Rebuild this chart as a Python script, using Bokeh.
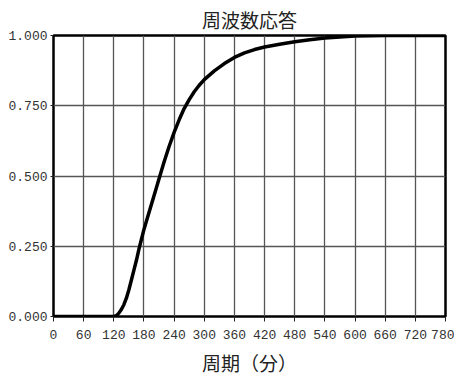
from bokeh.plotting import figure
from bokeh.models import Range1d, FixedTicker, NumeralTickFormatter
from bokeh.embed import file_html
from bokeh.resources import INLINE

# Data (period in minutes, response 0..1)
period = [0, 60, 120, 125, 130, 135, 140, 145, 150, 155, 160, 165, 170, 175, 180,
          190, 200, 210, 220, 230, 240, 250, 260, 270, 280, 290, 300, 320, 340,
          360, 380, 400, 420, 450, 480, 510, 540, 570, 600, 660, 720, 780]
response = [0.0, 0.0, 0.0, 0.003, 0.012, 0.025, 0.042, 0.065, 0.095, 0.13, 0.165,
            0.20, 0.24, 0.275, 0.31, 0.37, 0.43, 0.49, 0.55, 0.605, 0.655, 0.70,
            0.74, 0.772, 0.80, 0.823, 0.843, 0.874, 0.90, 0.922, 0.938, 0.95,
            0.959, 0.969, 0.978, 0.985, 0.991, 0.995, 0.998, 1.0, 1.0, 1.0]
x_ticks = list(range(0, 781, 60))
y_ticks = [0.0, 0.25, 0.5, 0.75, 1.0]

p = figure(width=454, height=383, output_backend="svg", toolbar_location=None,
           x_range=Range1d(0, 780), y_range=Range1d(0, 1),
           min_border_left=53, min_border_right=9, min_border_top=35,
           min_border_bottom=67)

p.title.text = "周波数応答"
p.title.align = "center"
p.title.text_font = "Noto Sans CJK JP"
p.title.text_font_size = "19px"
p.title.text_font_style = "normal"
p.title.text_color = "#222222"
p.title.text_line_height = 1.0
p.title.standoff = 5
p.title.offset = 0

p.line(period, response, line_color="black", line_width=3.5, line_join="round")

p.xaxis.ticker = FixedTicker(ticks=x_ticks)
p.yaxis.ticker = FixedTicker(ticks=y_ticks)
p.yaxis.formatter = NumeralTickFormatter(format="0.000")

for ax in (p.xaxis, p.yaxis):
    ax.axis_line_color = None
    ax.major_tick_line_color = "#222222"
    ax.major_tick_in = 0
    ax.minor_tick_line_color = None
    ax.major_label_text_font = "Liberation Mono"
    ax.major_label_text_font_size = "13px"
    ax.major_label_text_color = "#333333"

p.xaxis.major_tick_out = 5
p.xaxis.major_label_standoff = 8
p.yaxis.major_tick_out = 3
p.yaxis.major_label_standoff = 3

p.xaxis.axis_label = "周期（分）"
p.xaxis.axis_label_text_font = "Noto Sans CJK JP"
p.xaxis.axis_label_text_font_size = "19px"
p.xaxis.axis_label_text_font_style = "normal"
p.xaxis.axis_label_text_color = "#222222"
p.xaxis.axis_label_standoff = 7

p.grid.grid_line_color = "#555555"
p.grid.grid_line_width = 1.3
p.outline_line_color = "black"
p.outline_line_width = 2.5
p.outline_line_alpha = 1.0

open("out.html", "w").write(file_html(p, INLINE))
